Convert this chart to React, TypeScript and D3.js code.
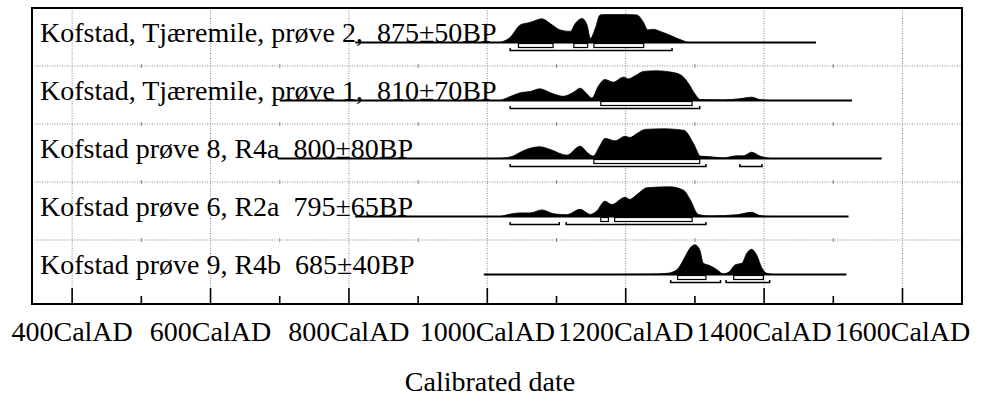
import React from "react";
import * as d3 from "d3";

const labels = [
  "Kofstad, Tjæremile, prøve 2,  875±50BP",
  "Kofstad, Tjæremile, prøve 1,  810±70BP",
  "Kofstad prøve 8, R4a  800±80BP",
  "Kofstad prøve 6, R2a  795±65BP",
  "Kofstad prøve 9, R4b  685±40BP",
];

const years1 = [1019,1033,1048,1062,1079,1091,1105,1120,1127,1137,1144,1149,1156,1163,1173,1196,1216,1225,1232,1240,1250,1260,1274,1283,1290];
const prob1 = [0,17,59,67,79,63,42,37,63,80,59,14,47,92,93,93,92,70,42,44,37,28,14,6,0];

const years2 = [1019,1033,1048,1062,1076,1091,1110,1125,1134,1144,1151,1161,1170,1182,1197,1204,1214,1226,1245,1267,1281,1291,1300,1308,1341,1365,1382,1394,1409];
const prob2 = [0,13,26,30,39,26,14,28,41,22,8,50,70,61,78,72,83,97,99,94,83,56,22,3,2,6,11,3,0];

const years3 = [1019,1038,1052,1076,1091,1115,1134,1146,1153,1163,1170,1185,1199,1206,1216,1228,1255,1284,1298,1308,1322,1341,1361,1370,1382,1394,1409];
const prob3 = [0,9,26,39,30,11,41,17,8,44,67,59,74,70,83,97,99,94,50,8,6,2,9,9,21,8,0];

const years4 = [1019,1048,1062,1079,1096,1115,1134,1149,1158,1170,1180,1199,1206,1216,1231,1264,1284,1293,1305,1322,1361,1382,1394,1409];
const prob4 = [0,12,12,22,9,6,24,7,18,51,40,64,57,73,96,99,87,57,7,2,6,14,3,0];

const years5 = [1192,1235,1260,1274,1286,1293,1300,1307,1312,1322,1332,1341,1349,1358,1368,1375,1382,1389,1397,1404,1414];
const prob5 = [0,1,4,16,60,88,99,82,38,29,16,2,8,32,38,71,84,66,21,4,0];

const sigma1 = [
  [[1045,1095],[1125,1145],[1154,1226]],
  [[1164,1296]],
  [[1154,1307]],
  [[1164,1175],[1184,1296]],
  [[1275,1316],[1356,1399]],
];
const sigma2 = [
  [[1033,1267]],
  [[1033,1307]],
  [[1033,1316],[1365,1397]],
  [[1033,1104],[1114,1316]],
  [[1265,1337],[1345,1408]],
];
const lineSpans = [[809,1475],[700,1527],[697,1570],[809,1522],[995,1519]];

const majorTicks = [400,600,800,1000,1200,1400,1600];
const minorTicks = [500,700,900,1100,1300,1500];
const tickLabels = ["400CalAD","600CalAD","800CalAD","1000CalAD","1200CalAD","1400CalAD","1600CalAD"];
const axisTitle = "Calibrated date";

const yearsAll = [years1, years2, years3, years4, years5];
const probAll = [prob1, prob2, prob3, prob4, prob5];

export default function App() {
  const W = 983, H = 404;
  const left = 32, right = 962, top = 8, bottom = 304;
  const x = d3.scaleLinear().domain([342, 1686]).range([left, right]);
  const band = d3.scaleBand().domain(labels).range([top, top + 5 * 58]);
  const fontStyle = { fontFamily: "Liberation Serif, DejaVu Serif, serif", fontSize: "28px", whiteSpace: "pre" as const };
  const grid = "#8a8a8a";

  return (
    <svg width={W} height={H} style={{ position: "absolute", left: 0, top: 0, background: "#fff" }}>
      <rect x={0} y={0} width={W} height={H} fill="#fff" />
      {majorTicks.map((t) => (
        <line key={"vg" + t} x1={x(t)} x2={x(t)} y1={top} y2={bottom} stroke={grid} strokeWidth={1} strokeDasharray="1,1.5" />
      ))}
      {labels.slice(1).map((l) => (
        <g key={"sep" + l}>
          <line x1={left} x2={right} y1={band(l)} y2={band(l)} stroke={grid} strokeWidth={1} strokeDasharray="1,1.5" />
          {minorTicks.map((t) => (
            <line key={t} x1={x(t)} x2={x(t)} y1={band(l)! - 2} y2={band(l)! + 2} stroke={grid} strokeWidth={1} />
          ))}
        </g>
      ))}
      {labels.map((l, i) => {
        const base = band(l)! + 34.5;
        const y = d3.scaleLinear().domain([0, 100]).range([base, base - 30]);
        const pts = yearsAll[i].map((yr, j) => [yr, probAll[i][j]] as [number, number]);
        const area = d3.area<[number, number]>()
          .x((d) => x(d[0]))
          .y0(base)
          .y1((d) => y(d[1]))
          .curve(d3.curveMonotoneX);
        return (
          <g key={l}>
            <text x={40} y={base - 1} fill="#000" style={fontStyle}>{l}</text>
            <line x1={x(lineSpans[i][0])} x2={x(lineSpans[i][1])} y1={base} y2={base} stroke="#000" strokeWidth={1.8} />
            <path d={area(pts) || ""} fill="#000" stroke="#000" strokeWidth={0.8} />
            {sigma1[i].map((r, k) => (
              <rect key={"s1" + k} x={x(r[0])} y={base + 1} width={x(r[1]) - x(r[0])} height={4} fill="#fff" stroke="#000" strokeWidth={1.2} />
            ))}
            {sigma2[i].map((r, k) => (
              <path key={"s2" + k} d={`M${x(r[0])},${base + 5.5}V${base + 8}H${x(r[1])}V${base + 5.5}`} fill="none" stroke="#000" strokeWidth={1.5} />
            ))}
          </g>
        );
      })}
      {majorTicks.map((t) => (
        <line key={"mt" + t} x1={x(t)} x2={x(t)} y1={bottom} y2={bottom - 16} stroke="#000" strokeWidth={1.6} />
      ))}
      {minorTicks.map((t) => (
        <line key={"nt" + t} x1={x(t)} x2={x(t)} y1={bottom} y2={bottom - 8} stroke="#000" strokeWidth={1.6} />
      ))}
      <rect x={left} y={top} width={right - left} height={bottom - top} fill="none" stroke="#000" strokeWidth={2} />
      {majorTicks.map((t, i) => (
        <text key={"tl" + t} x={x(t)} y={341} textAnchor="middle" fill="#000" style={fontStyle}>{tickLabels[i]}</text>
      ))}
      <text x={490} y={391} textAnchor="middle" fill="#000" style={fontStyle}>{axisTitle}</text>
    </svg>
  );
}
